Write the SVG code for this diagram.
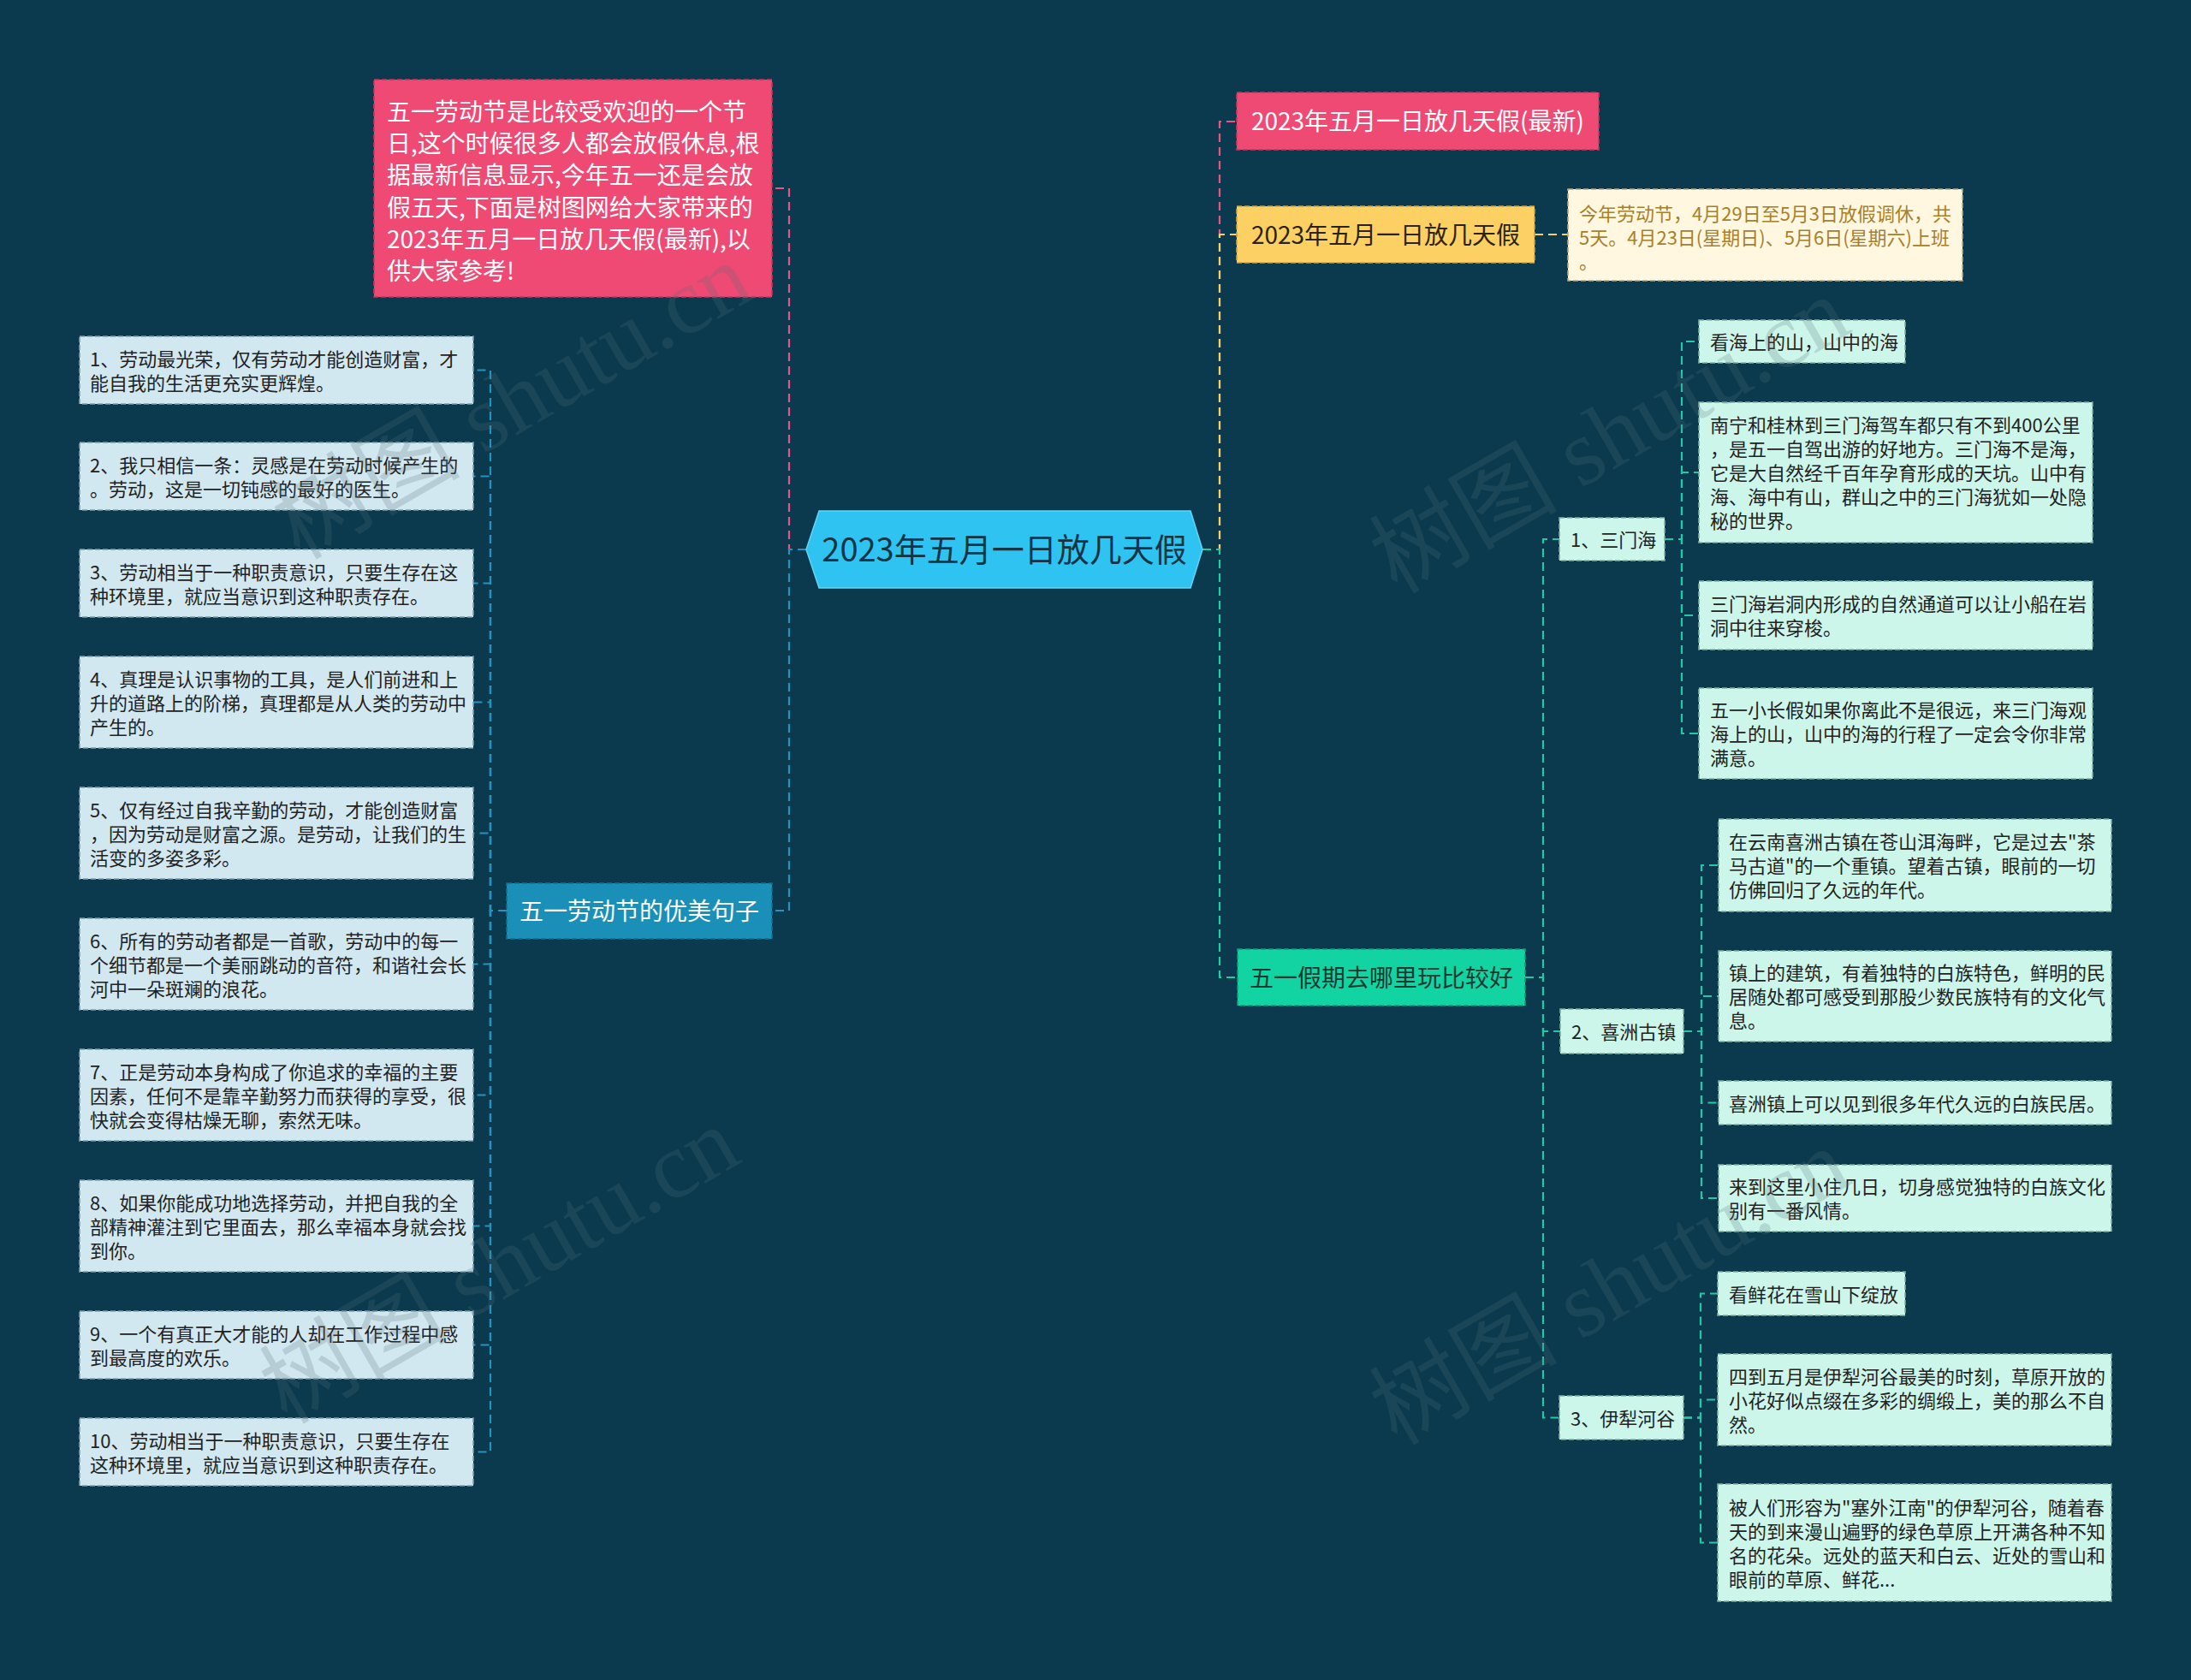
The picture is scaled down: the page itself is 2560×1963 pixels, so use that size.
<svg xmlns="http://www.w3.org/2000/svg" width="2560" height="1963" viewBox="0 0 2560 1963">
<defs>
<style>
text{font-family:"Noto Sans CJK SC","Noto Sans",sans-serif;}
.c{fill:none;stroke-width:2.2;stroke-dasharray:10 6;}
.cp{stroke:#e9567c;}
.cy{stroke:#f6cf68;}
.cb{stroke:#2792c0;}
.cg{stroke:#1fcf9f;}
.ct{stroke:#27c7a5;}
.bx{stroke-width:1.6;stroke-dasharray:6 3;}
.pink{fill:#ef4a74;stroke:#c7355c;}
.yel{fill:#fcd062;stroke:#c9a244;}
.cream{fill:#fff7e0;stroke:#b9a880;}
.blue{fill:#1a90b9;stroke:#126f90;}
.green{fill:#12d3a2;stroke:#0c9f7a;}
.lf{fill:#d2e8f0;stroke:#7f9fac;}
.mf{fill:#cdf6eb;stroke:#7fae9f;}
.t22{font-size:22px;fill:#222222;}
.t28{font-size:28px;}
.w{fill:#ffffff;}
.mid{text-anchor:middle;}
.wm{font-family:"Liberation Serif","Noto Sans CJK SC",serif;font-size:110px;fill:#56707b;opacity:0.22;}
</style>
</defs>
<rect x="0" y="0" width="2560" height="1963" fill="#0b3a4e"/>

<g id="connectors">
<path class="c cp" d="M942,642 H922 V220 H902"/>
<path class="c cb" d="M942,642 H922 V1064 H902"/>
<path class="c cp" d="M1405,642 H1425 V142 H1445"/>
<path class="c cy" d="M1405,642 H1425 V274 H1445"/>
<path class="c cg" d="M1405,642 H1425 V1142 H1446"/>
<path class="c cy" d="M1793,274 H1832"/>
<path class="c cb" d="M592,1064 H573 V432.5 H553"/>
<path class="c cb" d="M592,1064 H573 V556.5 H553"/>
<path class="c cb" d="M592,1064 H573 V681.5 H553"/>
<path class="c cb" d="M592,1064 H573 V820.5 H553"/>
<path class="c cb" d="M592,1064 H573 V973.5 H553"/>
<path class="c cb" d="M592,1064 H573 V1126.5 H553"/>
<path class="c cb" d="M592,1064 H573 V1279.5 H553"/>
<path class="c cb" d="M592,1064 H573 V1432.5 H553"/>
<path class="c cb" d="M592,1064 H573 V1571.5 H553"/>
<path class="c cb" d="M592,1064 H573 V1696.5 H553"/>
<path class="c ct" d="M1782,1142 H1803 V630 H1822"/>
<path class="c ct" d="M1782,1142 H1803 V1205 H1823"/>
<path class="c ct" d="M1782,1142 H1803 V1656.5 H1822"/>
<path class="c ct" d="M1945,630 H1965 V399 H1985"/>
<path class="c ct" d="M1945,630 H1965 V552 H1985"/>
<path class="c ct" d="M1945,630 H1965 V719 H1985"/>
<path class="c ct" d="M1945,630 H1965 V857 H1985"/>
<path class="c ct" d="M1967,1205 H1988 V1011 H2008"/>
<path class="c ct" d="M1967,1205 H1988 V1164 H2008"/>
<path class="c ct" d="M1967,1205 H1988 V1288.5 H2008"/>
<path class="c ct" d="M1967,1205 H1988 V1400 H2008"/>
<path class="c ct" d="M1967,1656.5 H1987 V1511.5 H2007"/>
<path class="c ct" d="M1967,1656.5 H1987 V1635.5 H2007"/>
<path class="c ct" d="M1967,1656.5 H1987 V1802.5 H2007"/>
</g>

<g id="root">
<polygon points="942,642 957,597 1391,597 1405,642 1391,687 957,687" fill="#2ec3f0" stroke="#62d5f7" stroke-width="1.5"/>
<text class="mid" x="1173.5" y="656" style="font-size:38px;fill:#173445">2023年五月一日放几天假</text>
</g>

<g id="intro">
<rect class="bx pink" x="437" y="93" width="465" height="254"/>
<text class="t28 w"><tspan x="452" y="140.6">五一劳动节是比较受欢迎的一个节</tspan><tspan x="452" y="177.9">日,这个时候很多人都会放假休息,根</tspan><tspan x="452" y="215.2">据最新信息显示,今年五一还是会放</tspan><tspan x="452" y="252.5">假五天,下面是树图网给大家带来的</tspan><tspan x="452" y="289.8">2023年五月一日放几天假(最新),以</tspan><tspan x="452" y="327.1">供大家参考!</tspan></text>
</g>

<g id="sentences">
<rect class="bx blue" x="592" y="1032" width="310" height="65"/>
<text class="t28 w mid" x="747" y="1075">五一劳动节的优美句子</text>
</g>

<g id="s1"><rect class="bx lf" x="93" y="393" width="460" height="79"/>
<text class="t22"><tspan x="105" y="427.5">1、劳动最光荣，仅有劳动才能创造财富，才</tspan><tspan x="105" y="455.5">能自我的生活更充实更辉煌。</tspan></text></g>
<g id="s2"><rect class="bx lf" x="93" y="517" width="460" height="79"/>
<text class="t22"><tspan x="105" y="551.5">2、我只相信一条：灵感是在劳动时候产生的</tspan><tspan x="105" y="579.5">。劳动，这是一切钝感的最好的医生。</tspan></text></g>
<g id="s3"><rect class="bx lf" x="93" y="642" width="460" height="79"/>
<text class="t22"><tspan x="105" y="676.5">3、劳动相当于一种职责意识，只要生存在这</tspan><tspan x="105" y="704.5">种环境里，就应当意识到这种职责存在。</tspan></text></g>
<g id="s4"><rect class="bx lf" x="93" y="767" width="460" height="107"/>
<text class="t22"><tspan x="105" y="801.5">4、真理是认识事物的工具，是人们前进和上</tspan><tspan x="105" y="829.5">升的道路上的阶梯，真理都是从人类的劳动中</tspan><tspan x="105" y="857.5">产生的。</tspan></text></g>
<g id="s5"><rect class="bx lf" x="93" y="920" width="460" height="107"/>
<text class="t22"><tspan x="105" y="954.5">5、仅有经过自我辛勤的劳动，才能创造财富</tspan><tspan x="105" y="982.5">，因为劳动是财富之源。是劳动，让我们的生</tspan><tspan x="105" y="1010.5">活变的多姿多彩。</tspan></text></g>
<g id="s6"><rect class="bx lf" x="93" y="1073" width="460" height="107"/>
<text class="t22"><tspan x="105" y="1107.5">6、所有的劳动者都是一首歌，劳动中的每一</tspan><tspan x="105" y="1135.5">个细节都是一个美丽跳动的音符，和谐社会长</tspan><tspan x="105" y="1163.5">河中一朵斑斓的浪花。</tspan></text></g>
<g id="s7"><rect class="bx lf" x="93" y="1226" width="460" height="107"/>
<text class="t22"><tspan x="105" y="1260.5">7、正是劳动本身构成了你追求的幸福的主要</tspan><tspan x="105" y="1288.5">因素，任何不是靠辛勤努力而获得的享受，很</tspan><tspan x="105" y="1316.5">快就会变得枯燥无聊，索然无味。</tspan></text></g>
<g id="s8"><rect class="bx lf" x="93" y="1379" width="460" height="107"/>
<text class="t22"><tspan x="105" y="1413.5">8、如果你能成功地选择劳动，并把自我的全</tspan><tspan x="105" y="1441.5">部精神灌注到它里面去，那么幸福本身就会找</tspan><tspan x="105" y="1469.5">到你。</tspan></text></g>
<g id="s9"><rect class="bx lf" x="93" y="1532" width="460" height="79"/>
<text class="t22"><tspan x="105" y="1566.5">9、一个有真正大才能的人却在工作过程中感</tspan><tspan x="105" y="1594.5">到最高度的欢乐。</tspan></text></g>
<g id="s10"><rect class="bx lf" x="93" y="1657" width="460" height="79"/>
<text class="t22"><tspan x="105" y="1691.5">10、劳动相当于一种职责意识，只要生存在</tspan><tspan x="105" y="1719.5">这种环境里，就应当意识到这种职责存在。</tspan></text></g>

<g id="latest">
<rect class="bx pink" x="1445" y="108" width="423" height="67"/>
<text class="t28 w mid" x="1656.5" y="152">2023年五月一日放几天假(最新)</text>
</g>
<g id="howmany">
<rect class="bx yel" x="1445" y="241" width="348" height="66"/>
<text class="t28 mid" x="1619" y="284.6" style="fill:#2a2210">2023年五月一日放几天假</text>
</g>
<g id="howmany-detail">
<rect class="bx cream" x="1832" y="221" width="461" height="107"/>
<text style="font-size:22px;fill:#a8802a"><tspan x="1845" y="258">今年劳动节，4月29日至5月3日放假调休，共</tspan><tspan x="1845" y="286">5天。4月23日(星期日)、5月6日(星期六)上班</tspan><tspan x="1845" y="314">。</tspan></text>
</g>

<g id="where">
<rect class="bx green" x="1446" y="1109" width="336" height="66"/>
<text class="t28 mid" x="1614" y="1152.6" style="fill:#163a30">五一假期去哪里玩比较好</text>
</g>

<g id="sanmenhai">
<rect class="bx mf" x="1822" y="605" width="123" height="50"/>
<text class="t22" x="1835" y="639">1、三门海</text>
</g>
<g id="smh1"><rect class="bx mf" x="1985" y="374" width="241" height="50"/>
<text class="t22" x="1998" y="408">看海上的山，山中的海</text></g>
<g id="smh2"><rect class="bx mf" x="1985" y="470" width="460" height="164"/>
<text class="t22"><tspan x="1998" y="505">南宁和桂林到三门海驾车都只有不到400公里</tspan><tspan x="1998" y="533">，是五一自驾出游的好地方。三门海不是海，</tspan><tspan x="1998" y="561">它是大自然经千百年孕育形成的天坑。山中有</tspan><tspan x="1998" y="589">海、海中有山，群山之中的三门海犹如一处隐</tspan><tspan x="1998" y="617">秘的世界。</tspan></text></g>
<g id="smh3"><rect class="bx mf" x="1985" y="679" width="460" height="80"/>
<text class="t22"><tspan x="1998" y="714">三门海岩洞内形成的自然通道可以让小船在岩</tspan><tspan x="1998" y="742">洞中往来穿梭。</tspan></text></g>
<g id="smh4"><rect class="bx mf" x="1985" y="804" width="460" height="106"/>
<text class="t22"><tspan x="1998" y="838">五一小长假如果你离此不是很远，来三门海观</tspan><tspan x="1998" y="866">海上的山，山中的海的行程了一定会令你非常</tspan><tspan x="1998" y="894">满意。</tspan></text></g>

<g id="xizhou">
<rect class="bx mf" x="1823" y="1179" width="144" height="52"/>
<text class="t22" x="1836" y="1214">2、喜洲古镇</text>
</g>
<g id="xz1"><rect class="bx mf" x="2008" y="957" width="459" height="108"/>
<text class="t22"><tspan x="2020" y="992">在云南喜洲古镇在苍山洱海畔，它是过去"茶</tspan><tspan x="2020" y="1020">马古道"的一个重镇。望着古镇，眼前的一切</tspan><tspan x="2020" y="1048">仿佛回归了久远的年代。</tspan></text></g>
<g id="xz2"><rect class="bx mf" x="2008" y="1111" width="459" height="106"/>
<text class="t22"><tspan x="2020" y="1145">镇上的建筑，有着独特的白族特色，鲜明的民</tspan><tspan x="2020" y="1173">居随处都可感受到那股少数民族特有的文化气</tspan><tspan x="2020" y="1201">息。</tspan></text></g>
<g id="xz3"><rect class="bx mf" x="2008" y="1263" width="459" height="51"/>
<text class="t22" x="2020" y="1297.5">喜洲镇上可以见到很多年代久远的白族民居。</text></g>
<g id="xz4"><rect class="bx mf" x="2008" y="1361" width="459" height="78"/>
<text class="t22"><tspan x="2020" y="1395">来到这里小住几日，切身感觉独特的白族文化</tspan><tspan x="2020" y="1423">别有一番风情。</tspan></text></g>

<g id="yili">
<rect class="bx mf" x="1822" y="1631" width="145" height="51"/>
<text class="t22" x="1835" y="1665.5">3、伊犁河谷</text>
</g>
<g id="yl1"><rect class="bx mf" x="2007" y="1486" width="219" height="51"/>
<text class="t22" x="2020" y="1520.5">看鲜花在雪山下绽放</text></g>
<g id="yl2"><rect class="bx mf" x="2007" y="1582" width="460" height="107"/>
<text class="t22"><tspan x="2020" y="1616.5">四到五月是伊犁河谷最美的时刻，草原开放的</tspan><tspan x="2020" y="1644.5">小花好似点缀在多彩的绸缎上，美的那么不自</tspan><tspan x="2020" y="1672.5">然。</tspan></text></g>
<g id="yl3"><rect class="bx mf" x="2007" y="1734" width="460" height="137"/>
<text class="t22"><tspan x="2020" y="1769.5">被人们形容为"塞外江南"的伊犁河谷，随着春</tspan><tspan x="2020" y="1797.5">天的到来漫山遍野的绿色草原上开满各种不知</tspan><tspan x="2020" y="1825.5">名的花朵。远处的蓝天和白云、近处的雪山和</tspan><tspan x="2020" y="1853.5">眼前的草原、鲜花...</tspan></text></g>

<g id="watermarks">
<text class="wm" transform="translate(350,655) rotate(-30)">树图 shutu.cn</text>
<text class="wm" transform="translate(335,1665) rotate(-30)">树图 shutu.cn</text>
<text class="wm" transform="translate(1632,695) rotate(-30)">树图 shutu.cn</text>
<text class="wm" transform="translate(1632,1690) rotate(-30)">树图 shutu.cn</text>
</g>
</svg>
